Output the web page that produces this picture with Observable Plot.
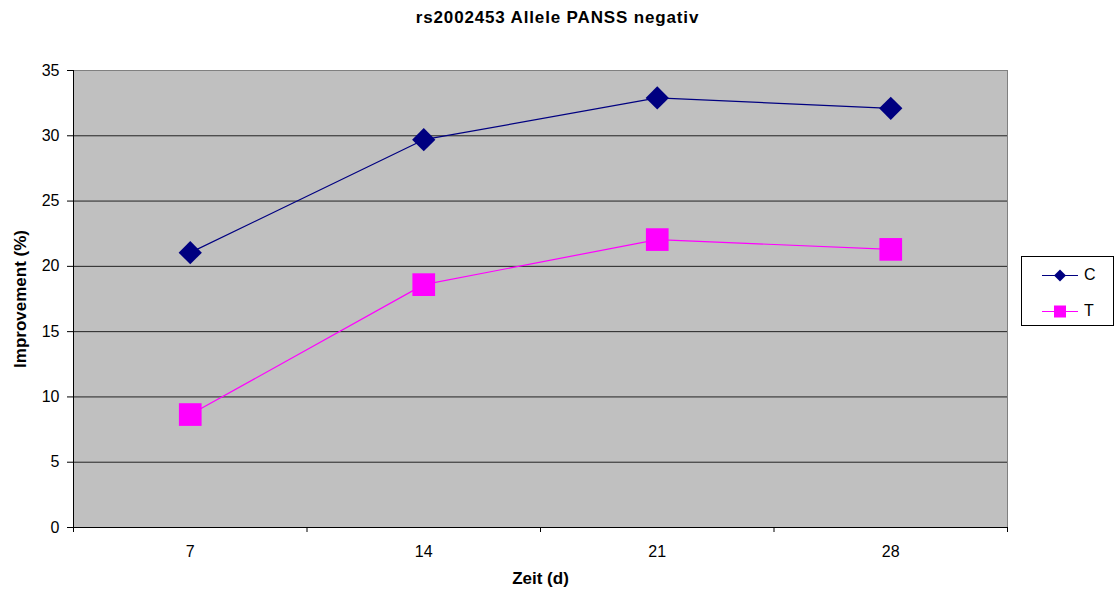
<!DOCTYPE html>
<html><head><meta charset="utf-8">
<script src="https://cdn.jsdelivr.net/npm/d3@7"></script>
<script src="https://cdn.jsdelivr.net/npm/@observablehq/plot@0.6"></script>
<style>
body{margin:0;background:#fff;font-family:"Liberation Sans",Arial,sans-serif;}
#wrap{position:relative;width:1115px;height:592px;}
#title{position:absolute;left:0;top:8px;width:1115px;text-align:center;font-weight:bold;font-size:17px;letter-spacing:0.85px;}
#legend{position:absolute;left:1021px;top:256px;width:91px;height:68px;border:1px solid #000;background:#fff;}
#legend .row{position:absolute;left:0;height:20px;}
#legend span{position:absolute;left:62px;top:1px;font-size:16px;}
</style></head>
<body><div id="wrap"><div id="title">rs2002453 Allele PANSS negativ</div></div>
<script>
const days = [7, 14, 21, 28];
const seriesNames = ["C", "T"];
const valuesC = [21.05, 29.7, 32.9, 32.1];
const valuesT = [8.65, 18.6, 22.05, 21.3];
const yTicks = [0, 5, 10, 15, 20, 25, 30, 35];
const colors = ["#000080", "#ff00ff"];
const xTitle = "Zeit (d)";
const yTitle = "Improvement (%)";

const data = [
  ...days.map((d, i) => ({day: d, value: valuesC[i], series: "C"})),
  ...days.map((d, i) => ({day: d, value: valuesT[i], series: "T"}))
];
const step = days[1] - days[0];
const bounds = days.map(d => d - step / 2).concat(days[days.length - 1] + step / 2);

const plot = Plot.plot({
  width: 1115, height: 592,
  marginLeft: 73, marginTop: 70, marginRight: 108, marginBottom: 65,
  style: {fontFamily: '"Liberation Sans", Arial, sans-serif', fontSize: "16px", color: "#000", background: "transparent"},
  x: {domain: [bounds[0], bounds[bounds.length - 1]]},
  y: {domain: [0, 35]},
  color: {domain: seriesNames, range: colors},
  marks: [
    Plot.frame({fill: "#c0c0c0", stroke: "#808080"}),
    Plot.ruleY(yTicks.filter(t => t > 0 && t < 35), {stroke: "#222", strokeWidth: 1}),
    Plot.ruleY([0], {stroke: "#000"}),
    Plot.ruleX([bounds[0]], {stroke: "#000"}),
    Plot.axisY({ticks: yTicks, tickSize: 6, tickPadding: 8, label: yTitle, labelAnchor: "center", labelArrow: "none", labelOffset: 60}),
    Plot.axisX({ticks: bounds, tickSize: 5, tickFormat: () => "", label: null}),
    Plot.axisX({ticks: days, tickSize: 0, tickPadding: 18, label: xTitle, labelAnchor: "center", labelArrow: "none", labelOffset: 56}),
    Plot.line(data, {x: "day", y: "value", z: "series", stroke: "series", strokeWidth: 1.2}),
    Plot.dot(data.filter(d => d.series === "C"), {x: "day", y: "value", symbol: "diamond2", r: 10.5, fill: colors[0], stroke: "none"}),
    Plot.dot(data.filter(d => d.series === "T"), {x: "day", y: "value", symbol: "square", r: 12.8, fill: colors[1], stroke: "none"})
  ]
});
d3.select(plot).selectAll("text").each(function() {
  const t = this.textContent;
  if (t === xTitle || t === yTitle) {
    d3.select(this).style("font-size", "17px").style("font-weight", "bold");
  } else {
    d3.select(this).style("font-size", "16px");
  }
});
document.getElementById("wrap").prepend(plot);

// legend
const legend = d3.select("#wrap").append("div").attr("id", "legend");
seriesNames.forEach((name, i) => {
  const row = legend.append("div").attr("class", "row").style("top", (8 + i * 36) + "px").style("width", "91px");
  const s = row.append("svg").attr("width", 60).attr("height", 20).style("position", "absolute").style("left", "0px");
  s.append("line").attr("x1", 20).attr("x2", 56).attr("y1", 10.5).attr("y2", 10.5).attr("stroke", colors[i]).attr("stroke-width", 1.2);
  if (i === 0) s.append("path").attr("d", "M38,4.5L44,10.5L38,16.5L32,10.5Z").attr("fill", colors[i]);
  else s.append("rect").attr("x", 32).attr("y", 4.5).attr("width", 12).attr("height", 12).attr("fill", colors[i]);
  row.append("span").text(name);
});
</script></body></html>
